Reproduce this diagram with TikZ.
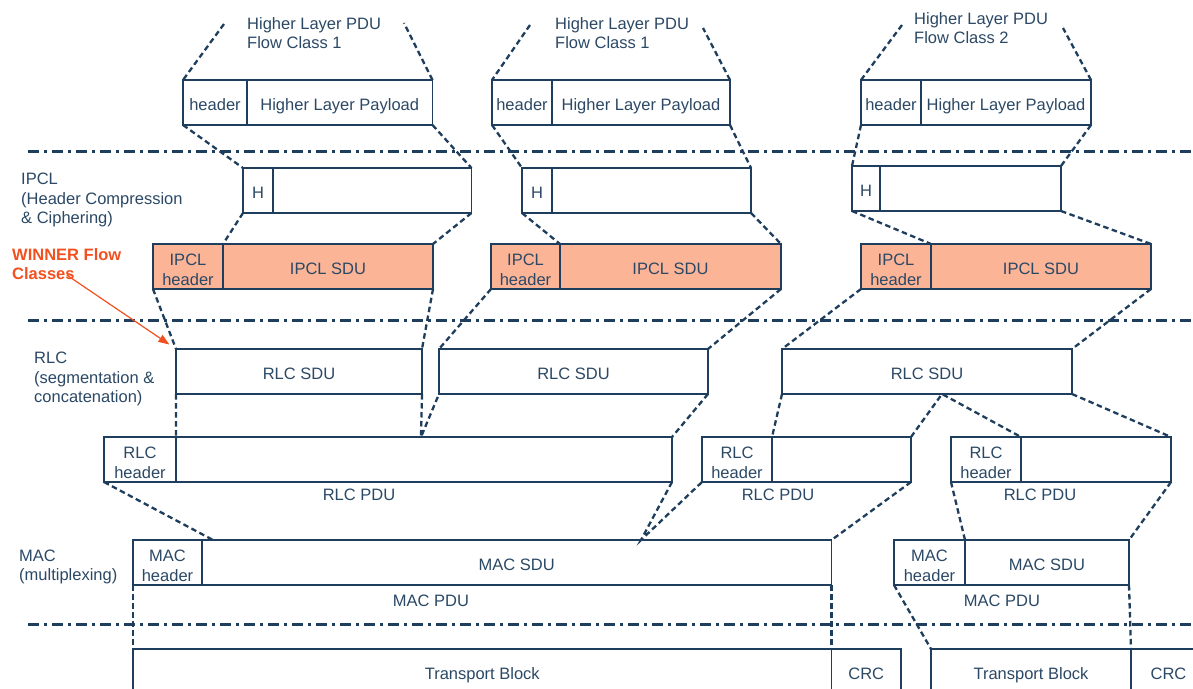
\documentclass[tikz,border=0pt]{standalone}
\usepackage{fontspec}
\setmainfont{Liberation Sans}
\usetikzlibrary{arrows.meta,calc,positioning}
\definecolor{navy}{HTML}{1F3D5C}
\definecolor{ink}{HTML}{2B4865}
\definecolor{salmon}{HTML}{FCB497}
\definecolor{flowred}{HTML}{F2501E}

\begin{document}
\begin{tikzpicture}[x=1pt,y=-1pt,
  font=\fontsize{16.5}{19.5}\selectfont,text=ink,
  cell/.style={draw=navy,line width=1.4pt,minimum height=45pt,inner sep=1pt,
    outer sep=0pt,anchor=north west,align=center,text height=16pt,text depth=0pt},
  pair/.style={text height=37pt,text depth=0pt},
  ipcl/.style={cell,fill=salmon},
  link/.style={draw=navy,line width=2.3pt,dash pattern=on 5.5pt off 3.5pt},
  layer/.style={draw=navy,line width=3pt,dash pattern=on 11pt off 5pt on 3pt off 5pt},
  lbl/.style={anchor=west,inner sep=0pt,align=left}]
  \useasboundingbox (0,0) rectangle (1193,688);
  % layer borders
  \foreach \y in {151,320,624}
    \draw[layer] (28,\y) -- (1193,\y);

  % higher layer PDUs
  \node[lbl] (pdu1) at (247,33) {Higher Layer PDU\\Flow Class 1};
  \node[lbl] (pdu2) at (555,33) {Higher Layer PDU\\Flow Class 1};
  \node[lbl] (pdu3) at (914,28) {Higher Layer PDU\\Flow Class 2};
  \node[cell,minimum width=64pt] (hh1) at (183,80) {header};
  \node[cell,minimum width=185.5pt,right=0pt of hh1] (hp1) {Higher Layer Payload};
  \node[cell,minimum width=60pt] (hh2) at (492,80) {header};
  \node[cell,minimum width=178pt,right=0pt of hh2] (hp2) {Higher Layer Payload};
  \node[cell,minimum width=60pt] (hh3) at (861,80) {header};
  \node[cell,minimum width=170pt,right=0pt of hh3] (hp3) {Higher Layer Payload};
  \coordinate (t1l) at (224,24);
  \coordinate (t1r) at (404,23);
  \coordinate (t2l) at (530,25);
  \coordinate (t2r) at (703,28);
  \coordinate (t3l) at (902,25);
  \coordinate (t3r) at (1063,28);

  % IPCL
  \node[lbl] (ipcl) at (21,200) {IPCL\\(Header Compression\\\& Ciphering)};
  \node[cell,minimum width=30pt] (ch1) at (243,168) {H};
  \node[cell,minimum width=198.5pt,right=0pt of ch1] (cb1) {};
  \node[cell,minimum width=30pt] (ch2) at (522,168) {H};
  \node[cell,minimum width=199pt,right=0pt of ch2] (cb2) {};
  \node[cell,minimum width=28pt] (ch3) at (852,166) {H};
  \node[cell,minimum width=181pt,right=0pt of ch3] (cb3) {};
  \node[ipcl,pair,minimum width=70pt] (ih1) at (153,244) {IPCL\\header};
  \node[ipcl,minimum width=210pt,right=0pt of ih1] (is1) {IPCL SDU};
  \node[ipcl,pair,minimum width=69pt] (ih2) at (491,244) {IPCL\\header};
  \node[ipcl,minimum width=221pt,right=0pt of ih2] (is2) {IPCL SDU};
  \node[ipcl,pair,minimum width=70pt] (ih3) at (861,244) {IPCL\\header};
  \node[ipcl,minimum width=220pt,right=0pt of ih3] (is3) {IPCL SDU};
  \node[lbl,text=flowred,font=\fontsize{16.5}{19.5}\selectfont\bfseries] (winner) at (12,264) {WINNER Flow\\Classes};

  % RLC
  \node[lbl] (rlc) at (34,379) {RLC\\(segmentation \&\\concatenation)};
  \node[cell,minimum width=246pt] (rs1) at (176,349) {RLC SDU};
  \node[cell,minimum width=269pt] (rs2) at (439,349) {RLC SDU};
  \node[cell,minimum width=290pt] (rs3) at (782,349) {RLC SDU};
  \node[cell,pair,minimum width=72pt] (rh1) at (104,437) {RLC\\header};
  \node[cell,minimum width=496pt,right=0pt of rh1] (rp1) {};
  \node[cell,pair,minimum width=70pt] (rh2) at (702,437) {RLC\\header};
  \node[cell,minimum width=139pt,right=0pt of rh2] (rp2) {};
  \node[cell,pair,minimum width=70pt] (rh3) at (951,437) {RLC\\header};
  \node[cell,minimum width=150pt,right=0pt of rh3] (rp3) {};
  \node (rl1) at (359,495) {RLC PDU};
  \node (rl2) at (778,495) {RLC PDU};
  \node (rl3) at (1040,495) {RLC PDU};
  \coordinate (v1) at (421,437);
  \coordinate (m3) at (942,394);

  % MAC
  \node[lbl] (mac) at (19,567) {MAC\\(multiplexing)};
  \node[cell,pair,minimum width=69pt] (mh1) at (133,540) {MAC\\header};
  \node[cell,minimum width=629.5pt,right=0pt of mh1] (ms1) {MAC SDU};
  \node[cell,pair,minimum width=71pt] (mh2) at (894,540) {MAC\\header};
  \node[cell,minimum width=164pt,right=0pt of mh2] (ms2) {MAC SDU};
  \node (ml1) at (431,601) {MAC PDU};
  \node (ml2) at (1002,601) {MAC PDU};
  \coordinate (w1) at (213,540);
  \coordinate (w2) at (641,540);

  % PHY
  \node[cell,minimum width=698.5pt] (tb1) at (133,649) {Transport Block};
  \node[cell,minimum width=69.5pt,right=0pt of tb1] (crc1) {CRC};
  \node[cell,minimum width=200pt] (tb2) at (931,649) {Transport Block};
  \node[cell,minimum width=75pt,right=0pt of tb2] (crc2) {CRC};

  % mapping between the layers
  \draw[link] (t1l) -- (hh1.north west) (hp1.north east) -- (t1r);
  \draw[link] (t2l) -- (hh2.north west) (hp2.north east) -- (t2r);
  \draw[link] (t3l) -- (hh3.north west) (hp3.north east) -- (t3r);
  \draw[link] (hh1.south west) -- (ch1.north west) (hp1.south east) -- (cb1.north east);
  \draw[link] (hh2.south west) -- (ch2.north west) (hp2.south east) -- (cb2.north east);
  \draw[link] (hh3.south west) -- (ch3.north west) (hp3.south east) -- (cb3.north east);
  \draw[link] (ch1.south west) -- (ih1.north east) (cb1.south east) -- (is1.north east);
  \draw[link] (ch2.south west) -- (ih2.north east) (cb2.south east) -- (is2.north east);
  \draw[link] (ch3.south west) -- (ih3.north east) (cb3.south east) -- (is3.north east);
  \draw[link] (ih1.south west) -- (rs1.north west) (is1.south east) -- (rs1.north east);
  \draw[link] (ih2.south west) -- (rs2.north west) (is2.south east) -- (rs2.north east);
  \draw[link] (ih3.south west) -- (rs3.north west) (is3.south east) -- (rs3.north east);
  \draw[link] (rs1.south west) -- (rh1.north east) (rs1.south east) -- (v1) -- (rs2.south west);
  \draw[link] (rs2.south east) -- (rp1.north east) (rs3.south west) -- (rh2.north east);
  \draw[link] (rp2.north east) -- (m3) -- (rh3.north east) (rs3.south east) -- (rp3.north east);
  \draw[link] (rh1.south west) -- (w1) (rp1.south east) -- (w2) -- (rh2.south west);
  \draw[link] (rp2.south east) -- (ms1.north east) (rh3.south west) -- (mh2.north east);
  \draw[link] (rp3.south east) -- (ms2.north east);
  \draw[link] (mh1.south west) -- (tb1.north west) (ms1.south east) -- (tb1.north east);
  \draw[link] (mh2.south west) -- (tb2.north west) (ms2.south east) -- (tb2.north east);
  \draw[flowred,line width=1.2pt,-{Triangle[length=11pt,width=8pt]},shorten >=8pt]
    ([yshift=5pt]winner.south) -- (rs1.north west);
\end{tikzpicture}
\end{document}
